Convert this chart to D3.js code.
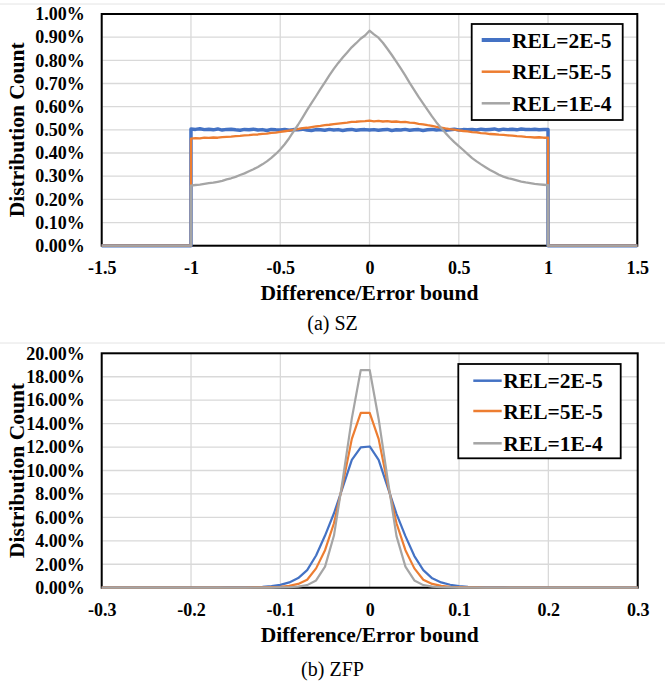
<!DOCTYPE html>
<html><head><meta charset="utf-8">
<script src="https://cdn.jsdelivr.net/npm/d3@7"></script>
<style>body{margin:0;background:#fff}svg{display:block}</style>
</head><body>
<svg id="chart" width="665" height="685"></svg>
<script>
// ---------------- DATA ----------------
const seriesNames = ["REL=2E-5", "REL=5E-5", "REL=1E-4"];

// (a) SZ : x = Difference / Error bound, y = distribution count (%)
const szX = [-1.5, -1.0,
  -1, -0.975, -0.95, -0.925, -0.9, -0.875, -0.85, -0.825, -0.8, -0.775,
  -0.75, -0.725, -0.7, -0.675, -0.65, -0.625, -0.6, -0.575, -0.55, -0.525,
  -0.5, -0.475, -0.45, -0.425, -0.4, -0.375, -0.35, -0.325, -0.3, -0.275,
  -0.25, -0.225, -0.2, -0.175, -0.15, -0.125, -0.1, -0.075, -0.05, -0.025,
  0,
  0.025, 0.05, 0.075, 0.1, 0.125, 0.15, 0.175, 0.2, 0.225, 0.25,
  0.275, 0.3, 0.325, 0.35, 0.375, 0.4, 0.425, 0.45, 0.475, 0.5,
  0.525, 0.55, 0.575, 0.6, 0.625, 0.65, 0.675, 0.7, 0.725, 0.75,
  0.775, 0.8, 0.825, 0.85, 0.875, 0.9, 0.925, 0.95, 0.975, 1,
  1.0, 1.5];
const szRel2e5 = [0, 0,
  0.504, 0.502, 0.505, 0.501, 0.503, 0.500, 0.504, 0.499, 0.502, 0.503,
  0.500, 0.498, 0.502, 0.500, 0.503, 0.499, 0.501, 0.497, 0.502, 0.500,
  0.499, 0.502, 0.498, 0.501, 0.500, 0.503, 0.499, 0.497, 0.501, 0.500,
  0.498, 0.502, 0.499, 0.501, 0.497, 0.500, 0.502, 0.498, 0.500, 0.501,
  0.499,
  0.501, 0.498, 0.500, 0.502, 0.497, 0.500, 0.499, 0.502, 0.498, 0.500,
  0.501, 0.497, 0.500, 0.502, 0.499, 0.501, 0.498, 0.500, 0.503, 0.499,
  0.501, 0.500, 0.502, 0.499, 0.503, 0.500, 0.502, 0.504, 0.499, 0.503,
  0.501, 0.503, 0.500, 0.504, 0.502, 0.501, 0.503, 0.500, 0.502, 0.501,
  0, 0];
const szRel5e5 = [0, 0,
  0.462, 0.464, 0.463, 0.466, 0.465, 0.467, 0.466, 0.469, 0.470, 0.471,
  0.473, 0.474, 0.476, 0.477, 0.479, 0.480, 0.483, 0.484, 0.487, 0.488,
  0.491, 0.494, 0.497, 0.500, 0.503, 0.507, 0.509, 0.512, 0.515, 0.517,
  0.520, 0.522, 0.525, 0.527, 0.529, 0.531, 0.534, 0.535, 0.537, 0.538,
  0.540,
  0.537, 0.539, 0.536, 0.538, 0.535, 0.536, 0.533, 0.534, 0.531, 0.530,
  0.526, 0.524, 0.520, 0.517, 0.513, 0.510, 0.506, 0.503, 0.501, 0.498,
  0.495, 0.493, 0.490, 0.489, 0.486, 0.485, 0.482, 0.481, 0.479, 0.478,
  0.476, 0.475, 0.473, 0.472, 0.470, 0.469, 0.467, 0.468, 0.466, 0.466,
  0, 0];
const szRel1e4 = [0, 0,
  0.259, 0.262, 0.264, 0.267, 0.270, 0.272, 0.276, 0.280, 0.286, 0.291,
  0.297, 0.305, 0.312, 0.321, 0.330, 0.340, 0.351, 0.364, 0.379, 0.396,
  0.415, 0.438, 0.464, 0.493, 0.522, 0.553, 0.585, 0.615, 0.645, 0.676,
  0.705, 0.735, 0.763, 0.789, 0.812, 0.834, 0.856, 0.874, 0.893, 0.907,
  0.928,
  0.912, 0.898, 0.876, 0.850, 0.823, 0.794, 0.765, 0.735, 0.703, 0.673,
  0.642, 0.614, 0.586, 0.558, 0.532, 0.509, 0.487, 0.466, 0.447, 0.430,
  0.413, 0.395, 0.378, 0.364, 0.351, 0.339, 0.327, 0.317, 0.306, 0.298,
  0.292, 0.287, 0.282, 0.277, 0.273, 0.270, 0.267, 0.265, 0.263, 0.261,
  0, 0];
const szXTicks = [-1.5, -1, -0.5, 0, 0.5, 1, 1.5];
const szXTickLabels = ["-1.5", "-1", "-0.5", "0", "0.5", "1", "1.5"];
const szYTicks = [0, 0.1, 0.2, 0.3, 0.4, 0.5, 0.6, 0.7, 0.8, 0.9, 1.0];

// (b) ZFP
const zfpX = [-0.30, -0.29, -0.28, -0.27, -0.26, -0.25, -0.24, -0.23, -0.22, -0.21,
  -0.20, -0.19, -0.18, -0.17, -0.16, -0.15, -0.14, -0.13, -0.12, -0.11,
  -0.10, -0.09, -0.08, -0.07, -0.06, -0.05, -0.04, -0.03, -0.02, -0.01,
  0.00,
  0.01, 0.02, 0.03, 0.04, 0.05, 0.06, 0.07, 0.08, 0.09, 0.10,
  0.11, 0.12, 0.13, 0.14, 0.15, 0.16, 0.17, 0.18, 0.19, 0.20,
  0.21, 0.22, 0.23, 0.24, 0.25, 0.26, 0.27, 0.28, 0.29, 0.30];
const zfpRel2e5 = [0, 0, 0, 0, 0, 0, 0, 0, 0, 0,
  0, 0, 0.01, 0.01, 0.02, 0.02, 0.03, 0.05, 0.08, 0.14,
  0.24, 0.45, 0.82, 1.50, 2.75, 4.45, 6.35, 8.60, 10.90, 11.98,
  12.05,
  10.90, 8.60, 6.30, 4.40, 2.70, 1.50, 0.80, 0.45, 0.25, 0.14,
  0.08, 0.05, 0.03, 0.02, 0.02, 0.01, 0.01, 0, 0, 0,
  0, 0, 0, 0, 0, 0, 0, 0, 0, 0];
const zfpRel5e5 = [0, 0, 0, 0, 0, 0, 0, 0, 0, 0,
  0, 0, 0, 0, 0, 0, 0.01, 0.02, 0.03, 0.05,
  0.08, 0.16, 0.32, 0.68, 1.65, 3.20, 5.50, 8.90, 12.70, 14.92,
  14.92,
  12.70, 8.90, 5.50, 3.20, 1.65, 0.68, 0.32, 0.16, 0.08, 0.05,
  0.03, 0.02, 0.01, 0, 0, 0, 0, 0, 0, 0,
  0, 0, 0, 0, 0, 0, 0, 0, 0, 0];
const zfpRel1e4 = [0, 0, 0, 0, 0, 0, 0, 0, 0, 0,
  0, 0, 0, 0, 0, 0, 0, 0, 0, 0.01,
  0.02, 0.04, 0.09, 0.22, 0.62, 1.80, 4.45, 9.30, 14.45, 18.57,
  18.57,
  14.40, 9.30, 4.40, 1.80, 0.62, 0.22, 0.09, 0.04, 0.02, 0.01,
  0, 0, 0, 0, 0, 0, 0, 0, 0, 0,
  0, 0, 0, 0, 0, 0, 0, 0, 0, 0];
const zfpXTicks = [-0.3, -0.2, -0.1, 0, 0.1, 0.2, 0.3];
const zfpXTickLabels = ["-0.3", "-0.2", "-0.1", "0", "0.1", "0.2", "0.3"];
const zfpYTicks = [0, 2, 4, 6, 8, 10, 12, 14, 16, 18, 20];

// ---------------- STYLE ----------------
const colors = ["#4472C4", "#ED7D31", "#A5A5A5"];
const serif = "'Liberation Serif', 'Times New Roman', Times, serif";
const svg = d3.select("#chart");

// faint page separators
[4, 343].forEach(yy => svg.append("line").attr("x1", 0).attr("x2", 665)
  .attr("y1", yy).attr("y2", yy).attr("stroke", "#e4e4e4").attr("stroke-width", 1));

function drawPanel(cfg) {
  const x = d3.scaleLinear().domain(cfg.xDomain).range([cfg.left, cfg.right]);
  const y = d3.scaleLinear().domain(cfg.yDomain).range([cfg.bottom, cfg.top]);
  const g = svg.append("g");

  // gridlines
  g.selectAll(".hg").data(cfg.yTicks).join("line")
    .attr("x1", cfg.left).attr("x2", cfg.right)
    .attr("y1", d => y(d)).attr("y2", d => y(d))
    .attr("stroke", "#d9d9d9").attr("stroke-width", 1.3);
  g.selectAll(".vg").data(cfg.xTicks).join("line")
    .attr("x1", d => x(d)).attr("x2", d => x(d))
    .attr("y1", cfg.top).attr("y2", cfg.bottom)
    .attr("stroke", "#d9d9d9").attr("stroke-width", 1.3);

  // frame
  g.append("rect").attr("x", cfg.left).attr("y", cfg.top)
    .attr("width", cfg.right - cfg.left).attr("height", cfg.bottom - cfg.top)
    .attr("fill", "none").attr("stroke", "#000").attr("stroke-width", 2);

  // axes
  const yAxis = d3.axisLeft(y).tickValues(cfg.yTicks)
    .tickFormat(d => d.toFixed(2) + "%").tickSize(0).tickPadding(17);
  const ya = g.append("g").attr("transform", `translate(${cfg.left},0)`).call(yAxis);
  ya.select(".domain").remove();
  ya.selectAll("text").attr("font-family", serif).attr("font-size", 18)
    .attr("font-weight", "bold").attr("fill", "#000");

  const xAxis = d3.axisBottom(x).tickValues(cfg.xTicks)
    .tickFormat((d, i) => cfg.xTickLabels[i]).tickSize(0).tickPadding(15.5);
  const xa = g.append("g").attr("transform", `translate(0,${cfg.bottom})`).call(xAxis);
  xa.select(".domain").remove();
  xa.selectAll("text").attr("font-family", serif).attr("font-size", 18)
    .attr("font-weight", "bold").attr("fill", "#000");

  // series
  const line = d3.line().x(d => x(d[0])).y(d => y(d[1]));
  cfg.series.forEach((vals, i) => {
    const pts = cfg.xs.map((xv, j) => [xv, vals[j]]);
    g.append("path").datum(pts).attr("d", line)
      .attr("fill", "none").attr("stroke", colors[i])
      .attr("stroke-width", cfg.widths[i]).attr("stroke-linejoin", "round");
  });

  // axis titles
  g.append("text").attr("transform", `translate(${cfg.yTitleX},${(cfg.top + cfg.bottom) / 2}) rotate(-90)`)
    .attr("text-anchor", "middle").attr("font-family", serif).attr("font-size", 21.5)
    .attr("font-weight", "bold").text("Distribution Count");
  g.append("text").attr("x", (cfg.left + cfg.right) / 2).attr("y", cfg.bottom + 54)
    .attr("text-anchor", "middle").attr("font-family", serif).attr("font-size", 21.5)
    .attr("font-weight", "bold").text("Difference/Error bound");
  g.append("text").attr("x", 332.5).attr("y", cfg.captionY)
    .attr("text-anchor", "middle").attr("font-family", serif).attr("font-size", 20)
    .text(cfg.caption);

  // legend
  const L = cfg.legend;
  g.append("rect").attr("x", L.x).attr("y", L.y).attr("width", L.w).attr("height", L.h)
    .attr("fill", "#fff").attr("stroke", "#000").attr("stroke-width", 1.8);
  seriesNames.forEach((name, i) => {
    const cy = L.rows[i];
    g.append("line").attr("x1", L.lx1).attr("x2", L.lx2).attr("y1", cy).attr("y2", cy)
      .attr("stroke", colors[i]).attr("stroke-width", L.widths[i]);
    g.append("text").attr("x", L.tx).attr("y", cy + 7.5)
      .attr("font-family", serif).attr("font-size", 21.5).attr("font-weight", "bold")
      .attr("fill", "#000").text(name);
  });
}

drawPanel({
  xDomain: [-1.5, 1.5], yDomain: [0, 1],
  left: 101.7, right: 637.3, top: 14, bottom: 245.7,
  xs: szX, series: [szRel2e5, szRel5e5, szRel1e4], widths: [3.5, 2.3, 2.3],
  xTicks: szXTicks, xTickLabels: szXTickLabels, yTicks: szYTicks,
  yTitleX: 24, caption: "(a) SZ", captionY: 330,
  legend: {x: 471.7, y: 24, w: 151, h: 96, rows: [40, 71.7, 103.3],
           lx1: 481.7, lx2: 510, tx: 512, widths: [4, 2.5, 2.5]}
});
drawPanel({
  xDomain: [-0.3, 0.3], yDomain: [0, 20],
  left: 101.7, right: 637.7, top: 353.3, bottom: 587.7,
  xs: zfpX, series: [zfpRel2e5, zfpRel5e5, zfpRel1e4], widths: [2.2, 2.2, 2.2],
  xTicks: zfpXTicks, xTickLabels: zfpXTickLabels, yTicks: zfpYTicks,
  yTitleX: 24, caption: "(b) ZFP", captionY: 676,
  legend: {x: 458.3, y: 364, w: 162.4, h: 94.3, rows: [380.7, 411, 443.3],
           lx1: 473.3, lx2: 501.7, tx: 503.3, widths: [2.5, 2.5, 2.5]}
});
</script>
</body></html>
